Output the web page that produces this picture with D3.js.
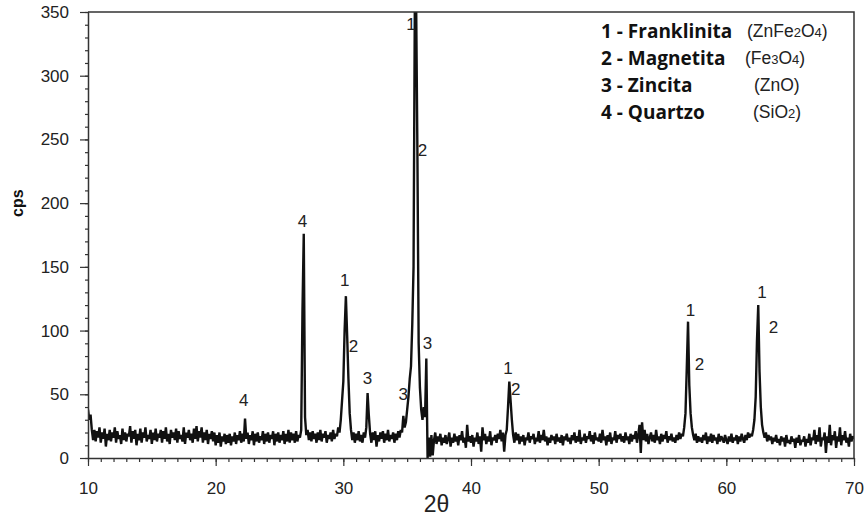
<!DOCTYPE html>
<head>
  <meta charset="utf-8">
  <script src="https://d3js.org/d3.v7.min.js"></script>
  <style>
    body { margin:0; background:#fff; }
    svg { display:block; }
  </style>
</head>
<body>
  <svg width="866" height="518"></svg>
  <script>
    // diffractogram, one value every 0.1 deg (2theta)
    var step = 0.1;
    var cps10 = [38,30,34,22,14,22,13,21,16,24, 12,20,15,23,9,19,14,22,13,20,
                 16,24,12,21,15,18,11,23,14,20, 13,19,17,25,12,21,15,22,10,19,
                 14,23,12,20,16,24,13,18,15,22, 11,20,14,23,13,19,16,22,12,21,
                 15,24,13,19,11,22,16,20,14,23, 12,21,15,18,13,24,11,20,16,22,
                 14,19,12,23,15,25,13,21,16,24, 12,20,14,22,11,19,15,21,13,20];
    var cps20 = [10,18,12,20,9,17,13,19,11,18, 12,19,10,17,13,20,11,18,14,21,
                 12,19,13,31,15,20,11,18,14,21, 10,19,13,20,12,17,14,21,11,19,
                 13,20,12,18,15,21,10,19,13,20, 12,18,14,21,11,19,13,22,12,20,
                 14,19,12,21,13,18,16,22,116,176, 32,18,22,14,20,13,21,15,19,12,
                 20,14,22,13,19,16,21,12,18,15, 20,13,22,15,19,17,24,20,30,45];
    var cps30 = [60,100,127,96,62,35,22,14,20,12, 19,14,21,13,18,12,20,16,24,51,
                 33,19,12,20,14,21,9,18,13,20, 15,21,12,19,14,22,13,18,15,20,
                 12,19,14,21,16,22,20,33,24,28, 38,48,62,72,105,150,355,360,243,90,
                 55,38,30,40,32,78,0,16,1,18, 2,14,20,11,17,13,19,10,16,12,
                 18,11,15,20,9,16,12,19,13,17, 10,18,14,21,12,16,8,26,13,17];
    var cps40 = [12,18,9,16,13,20,11,17,5,24, 14,19,11,17,13,21,10,16,14,18,
                 12,19,15,22,13,20,5,18,22,40, 60,45,30,18,12,20,14,19,11,17,
                 13,18,10,16,14,20,12,17,15,19, 11,16,13,21,12,18,14,22,13,17,
                 10,16,12,18,14,17,11,19,13,16, 12,18,10,17,14,19,13,16,11,18,
                 14,20,12,17,13,22,11,16,14,19, 12,17,15,21,13,18,11,20,14,16];
    var cps50 = [13,19,12,22,14,17,10,18,13,20, 11,16,14,21,12,18,15,19,13,17,
                 12,20,14,17,11,19,13,18,15,21, 12,18,26,4,28,14,22,13,19,11,
                 16,20,13,18,12,22,14,17,11,19, 13,18,15,21,12,17,14,19,13,16,
                 12,18,14,20,15,19,17,24,35,70, 107,57,35,24,18,14,19,12,17,13,
                 16,12,18,14,20,11,17,13,19,12, 18,14,16,11,19,13,17,15,12,18];
    var cps60 = [14,11,17,13,19,12,16,14,18,11, 17,13,19,15,12,18,14,20,16,19,
                 17,22,30,48,92,120,68,40,26,20, 16,20,13,18,14,17,11,16,13,18,
                 12,15,10,17,13,16,9,18,12,14, 11,17,13,15,8,16,12,18,10,14,
                 13,17,9,15,12,19,10,16,14,22, 11,18,13,24,9,16,14,20,4,17,
                 12,26,10,18,14,21,8,17,13,24, 10,18,14,21,12,16,9,19,13,17, 15];
    var segments = [[10, cps10], [20, cps20], [30, cps30], [40, cps40], [50, cps50], [60, cps60]];

    // peak labels: phase number, anchored in (2theta, cps)
    var peakText  = ['4',  '4',  '1',  '2',  '3',  '3',  '3',  '1',  '2',  '1',  '2',  '1',  '2',  '1',  '2'];
    var peakAngle = [22.2, 26.8, 30.1, 30.8, 31.9, 34.7, 36.6, 35.3, 36.2, 42.9, 43.5, 57.2, 57.9, 62.8, 63.7];
    var peakCps   = [46,   186,  140,  88,   63,   50,   90,   341,  242,  71,   54,   116,  74,   130,  103];

    var phaseNames = ['1 - Franklinita', '2 - Magnetita', '3 - Zincita', '4 - Quartzo'];
    var phaseFormulas = [[['(ZnFe', 0], ['2', 1], ['O', 0], ['4', 1], [')', 0]],
                         [['(Fe', 0], ['3', 1], ['O', 0], ['4', 1], [')', 0]],
                         [['(ZnO)', 0]],
                         [['(SiO', 0], ['2', 1], [')', 0]]];

    var xMajor = d3.range(10, 71, 10);
    var yMajor = d3.range(0, 351, 50);

    var width = 866, height = 518;
    var margin = {top: 12, right: 12, bottom: 60, left: 88};

    var data = [];
    segments.forEach(s => {
      s[1].forEach((v, i) => data.push({angle: s[0] + i * step, cps: v}));
    });

    var xScale = d3.scaleLinear()
      .domain([10, 70])
      .range([margin.left, width - margin.right]);
    var yScale = d3.scaleLinear()
      .domain([0, 350])
      .range([height - margin.bottom, margin.top]);

    var svg = d3.select('svg');

    svg.append('clipPath').attr('id', 'plot')
      .append('rect')
      .attr('x', margin.left).attr('y', margin.top)
      .attr('width', width - margin.left - margin.right)
      .attr('height', height - margin.top - margin.bottom);

    var line = d3.line()
      .x(d => xScale(d.angle))
      .y(d => yScale(d.cps));

    svg.append('path')
      .datum(data)
      .attr('clip-path', 'url(#plot)')
      .attr('d', line)
      .attr('fill', 'none')
      .attr('stroke', '#111')
      .attr('stroke-width', 2.4)
      .attr('stroke-linejoin', 'bevel');

    // frame top + right
    svg.append('path')
      .attr('d', 'M' + xScale(10) + ',' + yScale(350) + 'H' + xScale(70) + 'V' + yScale(0))
      .attr('fill', 'none')
      .attr('stroke', '#333')
      .attr('stroke-width', 1.5);

    // minor ticks
    svg.append('g')
      .attr('transform', 'translate(0,' + yScale(0) + ')')
      .call(d3.axisBottom(xScale).tickValues(d3.range(10, 71, 1)).tickSize(4).tickFormat(''))
      .call(g => g.select('.domain').remove());
    svg.append('g')
      .attr('transform', 'translate(' + (xScale(10) + 1) + ',0)')
      .call(d3.axisLeft(yScale).tickValues(d3.range(0, 351, 10)).tickSize(4).tickFormat(''))
      .call(g => g.select('.domain').remove());

    var xAxis = svg.append('g')
      .attr('transform', 'translate(0,' + yScale(0) + ')')
      .call(d3.axisBottom(xScale).tickValues(xMajor).tickSize(8).tickSizeOuter(0).tickPadding(16));
    var yAxis = svg.append('g')
      .attr('transform', 'translate(' + xScale(10) + ',0)')
      .call(d3.axisLeft(yScale).tickValues(yMajor).tickSize(8).tickSizeOuter(0).tickPadding(11));

    svg.selectAll('.tick line').attr('stroke', '#333').attr('stroke-width', 1.2);
    svg.selectAll('.domain').attr('stroke', '#333').attr('stroke-width', 1.5);
    svg.selectAll('.tick text')
      .attr('font-family', 'Liberation Sans, Arial, sans-serif')
      .attr('font-size', 17)
      .attr('fill', '#222');

    svg.append('text')
      .attr('transform', 'translate(23,' + yScale(200) + ') rotate(-90)')
      .attr('text-anchor', 'middle')
      .attr('font-family', 'Liberation Sans, Arial, sans-serif')
      .attr('font-weight', 'bold')
      .attr('font-size', 16)
      .attr('fill', '#111')
      .text('cps');

    svg.append('text')
      .attr('x', xScale(37.3))
      .attr('y', 512)
      .attr('text-anchor', 'middle')
      .attr('font-family', 'Liberation Sans, Arial, sans-serif')
      .attr('font-size', 23)
      .attr('fill', '#222')
      .text('2θ');

    svg.append('g').selectAll('text')
      .data(peakText)
      .enter().append('text')
      .attr('x', (d, i) => xScale(peakAngle[i]))
      .attr('y', (d, i) => yScale(peakCps[i]))
      .attr('dy', '0.36em')
      .attr('text-anchor', 'middle')
      .attr('font-family', 'Liberation Sans, Arial, sans-serif')
      .attr('font-size', 17)
      .attr('fill', '#222')
      .text(d => d);

    var legend = svg.append('g')
      .attr('font-family', 'Open Sans, Lato, sans-serif')
      .attr('fill', '#111');
    phaseNames.forEach((name, i) => {
      var y = 38 + i * 27;
      legend.append('text')
        .attr('x', 601).attr('y', y)
        .attr('font-weight', 'bold')
        .attr('font-size', 19)
        .text(name);
      var f = legend.append('text')
        .attr('x', [747, 745, 754, 753][i]).attr('y', y - 1)
        .attr('font-family', 'Liberation Sans, Arial, sans-serif')
        .attr('font-size', 17.5)
        .attr('fill', '#222');
      phaseFormulas[i].forEach(p => {
        f.append('tspan')
          .attr('font-size', p[1] ? 13 : 17.5)
          .text(p[0]);
      });
    });
  </script>
</body>
